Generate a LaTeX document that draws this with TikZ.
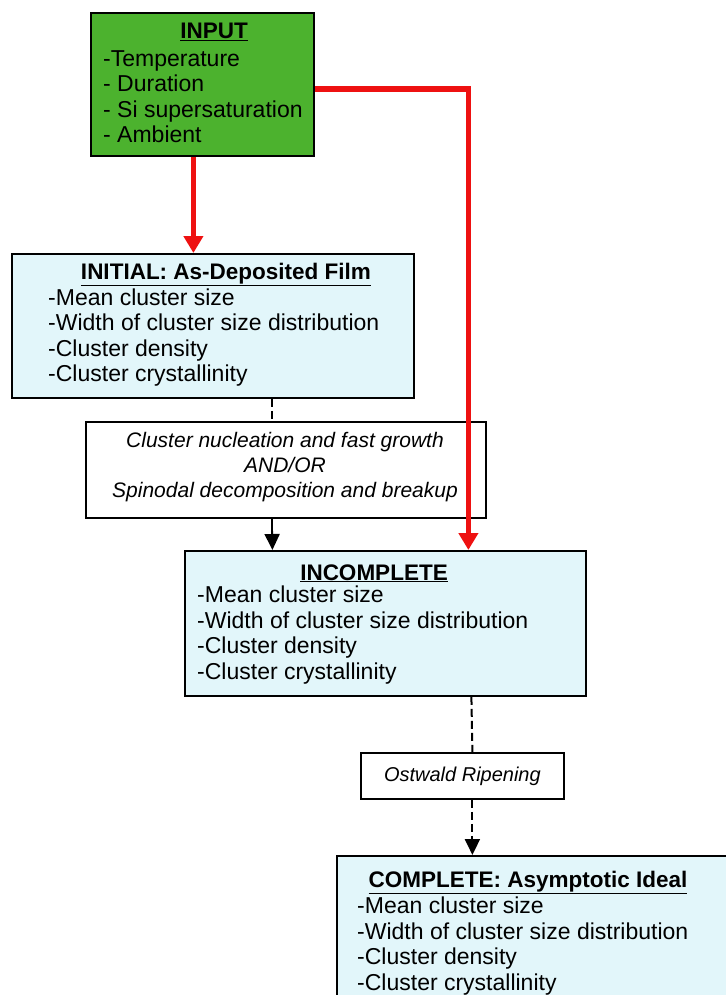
\documentclass[tikz,border=0pt]{standalone}
\usepackage{fontspec}
\setmainfont{Liberation Sans}
\usepackage{xcolor}
\definecolor{inputgreen}{HTML}{4CB22E}
\definecolor{stagecyan}{HTML}{E2F6FA}
\definecolor{flowred}{HTML}{EE1111}
\usepackage{tikz}
\usetikzlibrary{arrows.meta, positioning}

\begin{document}
\begin{tikzpicture}[x=1pt, y=-1pt,
    box/.style={rectangle, draw=black, line width=1.8pt, fill=#1, anchor=north west, inner sep=0pt},
    head/.style={font=\fontsize{22.5}{25}\selectfont\bfseries, anchor=base, inner sep=0pt},
    items/.style={font=\fontsize{23}{25.5}\selectfont, align=left, anchor=base west, inner sep=0pt},
    note/.style={font=\fontsize{21}{25}\selectfont\itshape, align=center, inner sep=0pt},
    redarr/.style={-{Triangle[length=17pt, width=19pt]}, line width=5.5pt, color=flowred},
    blkarr/.style={-{Triangle[length=16pt, width=15pt]}, line width=1.8pt},
    dashline/.style={line width=2pt, dash pattern=on 8pt off 4pt},
]
    \useasboundingbox (0,0) rectangle (725,995);

    % Boxes
    \node[box=inputgreen, minimum width=223pt, minimum height=143pt] (input) at (90,12) {};
    \node[box=stagecyan, minimum width=402pt, minimum height=144pt] (initial) at (11,253) {};
    \node[box=white, minimum width=400pt, minimum height=96pt] (nucl) at (85,421) {};
    \node[box=stagecyan, minimum width=401pt, minimum height=145pt] (incomplete) at (184,550) {};
    \node[box=white, minimum width=203pt, minimum height=46pt, font=\fontsize{20}{25}\selectfont\itshape] (ostwald) at (360,752) {Ostwald Ripening};
    \node[box=stagecyan, minimum width=420pt, minimum height=200pt] (complete) at (336,855) {};

    % Headings
    \node[head] (inputhead) at (214,39) {\underline{INPUT}};
    \node[head] (initialhead) at (226,279) {\underline{INITIAL: As-Deposited Film}};
    \node[head] (incompletehead) at (374,580) {\underline{INCOMPLETE}};
    \node[head] (completehead) at (528,887) {\underline{COMPLETE: Asymptotic Ideal}};

    % Lists (anchored at the last baseline)
    \node[items] (inputlist) at (103,143) {-Temperature\\- Duration\\- Si supersaturation\\- Ambient};
    \node[items] (initiallist) at (48,381.5) {-Mean cluster size\\-Width of cluster size distribution\\-Cluster density\\-Cluster crystallinity};
    \node[items] (incompletelist) at (197,679) {-Mean cluster size\\-Width of cluster size distribution\\-Cluster density\\-Cluster crystallinity};
    \node[items] (completelist) at (357,990) {-Mean cluster size\\-Width of cluster size distribution\\-Cluster density\\-Cluster crystallinity};
    \node[note, anchor=base] (nucltext) at (285,497) {Cluster nucleation and fast growth\\AND/OR\\Spinodal decomposition and breakup};

    % Red input arrows
    \draw[redarr] ([xshift=-9pt]input.south) -- ([xshift=-9pt]input.south |- initial.north);
    \draw[redarr] ([yshift=-4.5pt]input.east) -| ([xshift=83pt]incomplete.north);

    % Process arrows
    \draw[dashline] ([xshift=59pt]initial.south) -- ([xshift=-14pt]nucl.north);
    \draw[blkarr] ([xshift=-14pt]nucl.south) -- ([xshift=-113pt]incomplete.north);
    \draw[dashline] ([xshift=86pt]incomplete.south) -- ([xshift=10pt]ostwald.north);
    \draw[dashline, -{Triangle[length=16pt, width=15pt]}] ([xshift=10pt]ostwald.south) -- ([xshift=10pt]ostwald.south |- complete.north);
\end{tikzpicture}
\end{document}
